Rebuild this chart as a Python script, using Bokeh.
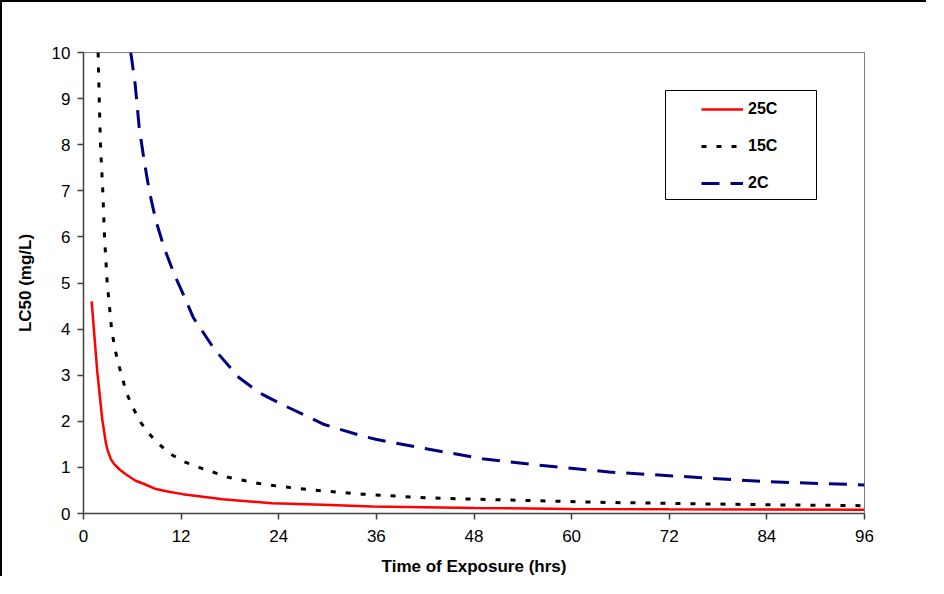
from bokeh.plotting import figure
from bokeh.models import Legend, LegendItem, BoxAnnotation, FixedTicker, Range1d
from bokeh.embed import file_html
from bokeh.resources import INLINE

# ---- data ----
x_ticks = [0, 12, 24, 36, 48, 60, 72, 84, 96]
y_ticks = [0, 1, 2, 3, 4, 5, 6, 7, 8, 9, 10]

t25 = [1.0, 1.7, 2.3, 2.74, 2.95, 3.36, 3.77, 4.4, 5.2, 6.4, 7.46, 8.9, 10.5, 12.2,
       17.1, 23.2, 29.4, 35.5, 48, 60, 72, 84, 96]
v25 = [4.6, 3.06, 2.05, 1.54, 1.38, 1.18, 1.07, 0.96, 0.85, 0.71, 0.64, 0.53, 0.47, 0.42,
       0.31, 0.22, 0.19, 0.15, 0.12, 0.10, 0.09, 0.085, 0.08]

t15 = [1.8, 1.93, 2.09, 2.37, 2.58, 2.91, 3.48, 3.85, 4.18, 4.71, 5.2, 5.94, 7.05, 8.27,
       9.5, 10.9, 12.4, 14.2, 17.9, 21.6, 24.05, 28.1, 34.3, 42.1, 48.2, 56, 64.2, 72,
       83.9, 96]
v15 = [10.0, 9.0, 7.98, 7.0, 6.01, 5.01, 3.95, 3.6, 3.31, 2.99, 2.66, 2.34, 1.97, 1.69,
       1.47, 1.27, 1.12, 1.0, 0.78, 0.65, 0.59, 0.51, 0.42, 0.34, 0.31, 0.275, 0.24, 0.22,
       0.19, 0.17]

t2 = [5.8, 5.9, 6.35, 6.85, 7.46, 8.08, 8.9, 9.9, 11.15, 12.17, 13.5, 16.1, 19.1, 21.6,
      24.7, 29.6, 33.9, 35.9, 41.3, 49, 56, 64.6, 72, 83.9, 96]
v2 = [10.0, 9.89, 9.31, 8.37, 7.65, 7.0, 6.35, 5.77, 5.19, 4.79, 4.25, 3.56, 2.95, 2.62,
      2.34, 1.93, 1.70, 1.61, 1.43, 1.19, 1.05, 0.90, 0.82, 0.69, 0.62]

labels = ["25C", "15C", "2C"]

FONT = "Liberation Sans"

p = figure(width=926, height=576, output_backend="svg", toolbar_location=None, tools="",
           x_range=Range1d(0, 96), y_range=Range1d(0, 10),
           min_border_left=81, min_border_top=50, min_border_right=64, min_border_bottom=65,
           x_axis_label="Time of Exposure (hrs)", y_axis_label="LC50 (mg/L)")
p.styles = {"border-left": "2px solid #000000", "border-top": "2px solid #000000"}

p.background_fill_color = "#ffffff"
p.border_fill_color = "#ffffff"
p.outline_line_color = "#808080"
p.outline_line_width = 1
p.xgrid.visible = False
p.ygrid.visible = False

p.xaxis.ticker = FixedTicker(ticks=x_ticks)
p.yaxis.ticker = FixedTicker(ticks=y_ticks)
for ax in (p.xaxis[0], p.yaxis[0]):
    ax.axis_line_color = "#404040"
    ax.axis_line_width = 1.5
    ax.major_tick_line_color = "#404040"
    ax.major_tick_line_width = 1.5
    ax.major_tick_in = 0
    ax.major_tick_out = 6
    ax.minor_tick_line_color = None
    ax.major_label_text_font = FONT
    ax.major_label_text_font_size = "17px"
    ax.major_label_text_color = "#000000"
    ax.axis_label_text_font = FONT
    ax.axis_label_text_font_style = "bold"
    ax.axis_label_text_font_size = "17px"
    ax.axis_label_text_color = "#000000"
p.yaxis.major_label_standoff = 7
p.yaxis.axis_label_standoff = 14
p.xaxis.major_label_standoff = 10
p.xaxis.axis_label_standoff = 12

r25 = p.line(t25, v25, line_color="#FF0000", line_width=2.5)
r15 = p.line(t15, v15, line_color="#000000", line_width=3, line_dash="5 10")
r2 = p.line(t2, v2, line_color="#000080", line_width=3, line_dash="18 11")

box = BoxAnnotation(left=582, right=733, bottom=314, top=423,
                    left_units="screen", right_units="screen",
                    bottom_units="screen", top_units="screen",
                    fill_color="#ffffff", fill_alpha=1.0,
                    line_color="#000000", line_alpha=1.0, line_width=1)
p.add_layout(box)

legend = Legend(items=[LegendItem(label=labels[0], renderers=[r25]),
                       LegendItem(label=labels[1], renderers=[r15]),
                       LegendItem(label=labels[2], renderers=[r2])],
                location=(618, 320), orientation="vertical", padding=0, margin=0,
                spacing=17, glyph_width=42, glyph_height=20, label_height=20,
                label_standoff=5, border_line_alpha=0, background_fill_alpha=0,
                label_text_font=FONT, label_text_font_style="bold",
                label_text_font_size="16px", label_text_color="#000000")
p.add_layout(legend)

open("out.html", "w").write(file_html(p, INLINE))
